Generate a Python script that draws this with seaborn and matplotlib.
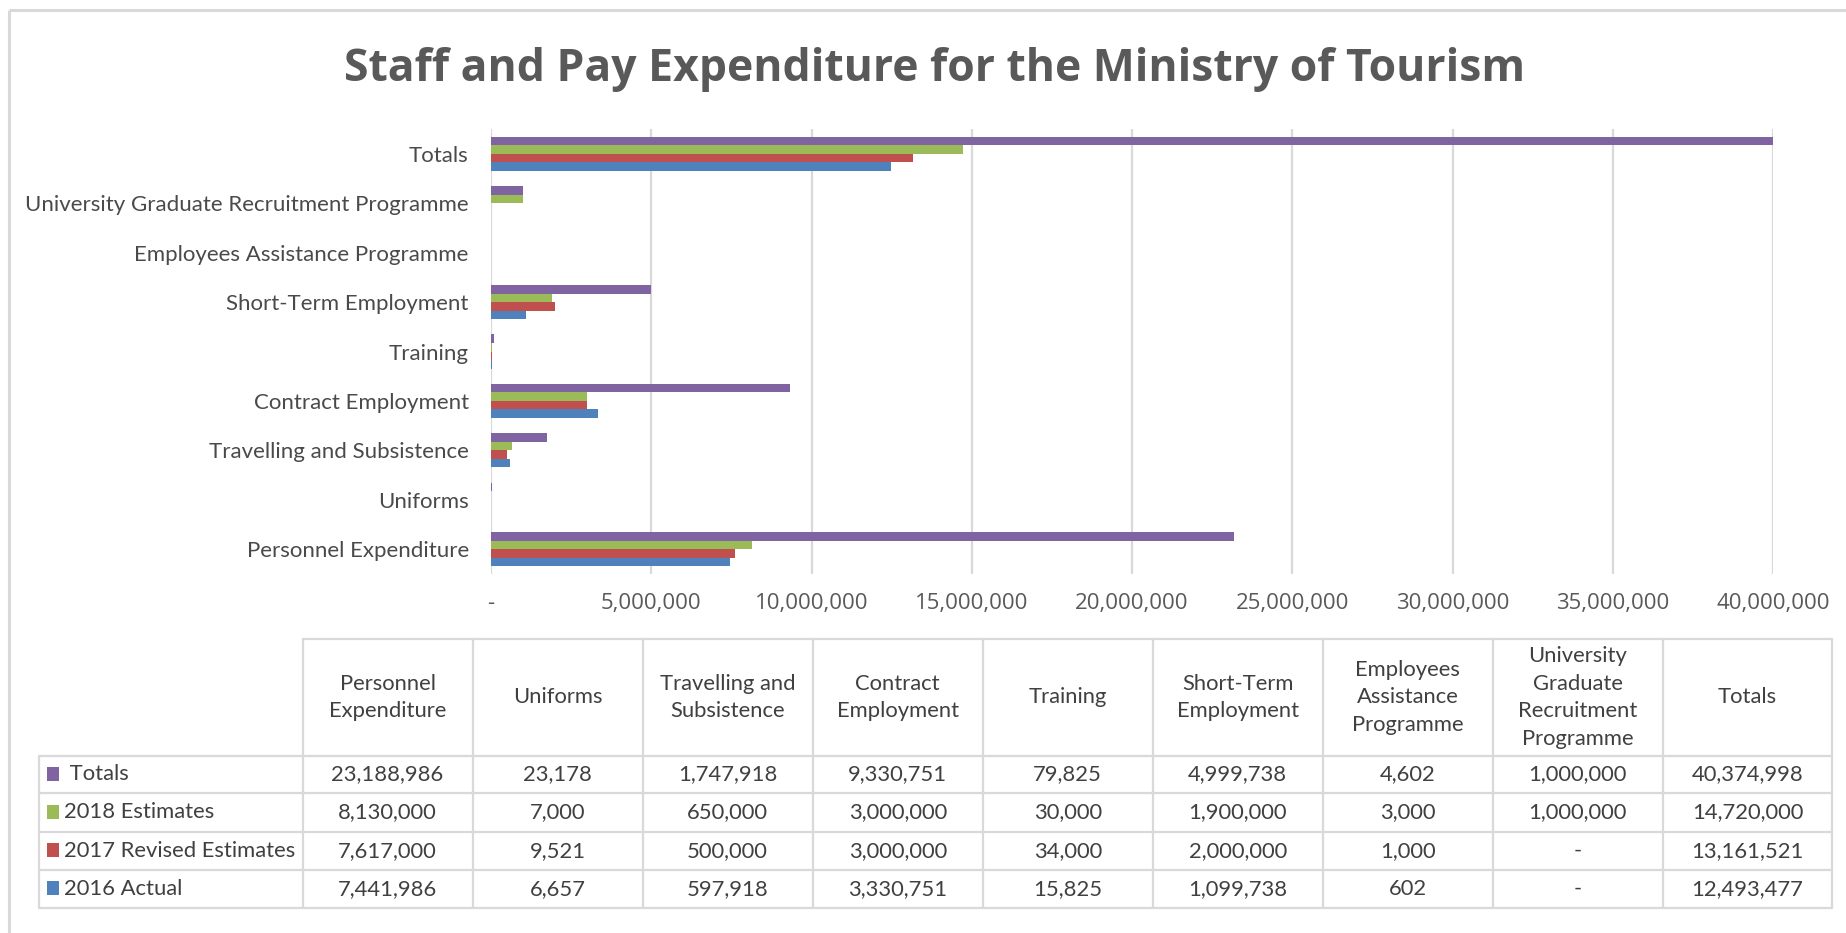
import matplotlib
matplotlib.use("Agg")
import matplotlib.pyplot as plt
import matplotlib.ticker as mticker
from matplotlib.patches import Rectangle
import seaborn as sns
import pandas as pd

# Expense lines, in the order they appear in the summary table
categories = [
    "Personnel Expenditure",
    "Uniforms",
    "Travelling and Subsistence",
    "Contract Employment",
    "Training",
    "Short-Term Employment",
    "Employees Assistance Programme",
    "University Graduate Recruitment Programme",
    "Totals",
]
header_labels = [
    "Personnel\nExpenditure",
    "Uniforms",
    "Travelling and\nSubsistence",
    "Contract\nEmployment",
    "Training",
    "Short-Term\nEmployment",
    "Employees\nAssistance\nProgramme",
    "University\nGraduate\nRecruitment\nProgramme",
    "Totals",
]

series_names = ["Totals", "2018 Estimates", "2017 Revised Estimates", "2016 Actual"]
series_colors = ["#8064A2", "#9BBB59", "#C0504D", "#4F81BD"]

totals = [23188986, 23178, 1747918, 9330751, 79825, 4999738, 4602, 1000000, 40374998]
est_2018 = [8130000, 7000, 650000, 3000000, 30000, 1900000, 3000, 1000000, 14720000]
rev_2017 = [7617000, 9521, 500000, 3000000, 34000, 2000000, 1000, 0, 13161521]
act_2016 = [7441986, 6657, 597918, 3330751, 15825, 1099738, 602, 0, 12493477]
series_values = [totals, est_2018, rev_2017, act_2016]

x_ticks = [0, 5e6, 10e6, 15e6, 20e6, 25e6, 30e6, 35e6, 40e6]

# Long-form frame for seaborn
rows = []
for name, vals in zip(series_names, series_values):
    for cat, v in zip(categories, vals):
        rows.append({"category": cat, "series": name, "value": v})
df = pd.DataFrame(rows)

sns.set_theme(style="white")
plt.rcParams["font.family"] = ["Lato", "DejaVu Sans"]

W, H = 1846, 933
fig = plt.figure(figsize=(W / 100, H / 100), dpi=100)
fig.patch.set_facecolor("white")

TEXT = "#595959"
GRID = "#D9D9D9"

# Bar chart area
ax = fig.add_axes([491 / W, 1 - 574 / H, (1773 - 491) / W, (574 - 129) / H])
sns.barplot(
    data=df, y="category", x="value", hue="series",
    order=categories[::-1], hue_order=series_names,
    palette=series_colors, orient="h", width=0.69,
    saturation=1, linewidth=0, ax=ax, legend=False,
)
ax.set_xlim(0, 40e6)
ax.set_ylim(8.5, -0.5)
ax.set_xticks(x_ticks)
ax.xaxis.set_major_formatter(
    mticker.FuncFormatter(lambda v, p: "-" if v == 0 else f"{int(v):,}")
)
ax.grid(axis="x", color=GRID, linewidth=1.6)
ax.set_axisbelow(True)
for s in ax.spines.values():
    s.set_visible(False)
ax.set_xlabel("")
ax.set_ylabel("")
ax.tick_params(axis="x", length=0, pad=14, labelsize=16, labelcolor=TEXT)
ax.tick_params(axis="y", length=0, pad=16, labelsize=16, labelcolor="#4a4a4a")
for lbl in ax.get_xticklabels():
    lbl.set_fontfamily(["Open Sans", "DejaVu Sans"])

# Title
fig.text(935 / W, 1 - 69 / H, "Staff and Pay Expenditure for the Ministry of Tourism",
         ha="center", va="center", fontsize=32, fontweight="bold", color=TEXT,
         fontfamily=["Open Sans", "DejaVu Sans"])

# Overlay axes in pixel coordinates for the frame and the data table
ov = fig.add_axes([0, 0, 1, 1], zorder=-1)
ov.set_xlim(0, W)
ov.set_ylim(H, 0)
ov.axis("off")

# Chart frame
ov.plot([9, 9], [H, 10], color=GRID, lw=2.2, solid_capstyle="butt")
ov.plot([9, W], [10, 10], color=GRID, lw=2.2, solid_capstyle="butt")

# Data table
col_edges = [302.6, 472.5, 642.6, 812.5, 983, 1152.5, 1323, 1492.5, 1663, 1832]
legend_left = 38.8
head_top, head_bot = 639, 755.6
row_edges = [755.6, 793.3, 831.5, 869.8, 907.5]
tcol = "#404040"
lw_t = 1.6
tsize = 15.8

ov2 = fig.add_axes([0, 0, 1, 1])
ov2.set_xlim(0, W)
ov2.set_ylim(H, 0)
ov2.axis("off")

# table grid
ov2.plot([col_edges[0], col_edges[-1]], [head_top, head_top], color=GRID, lw=lw_t)
for xe in col_edges:
    ov2.plot([xe, xe], [head_top, row_edges[-1]], color=GRID, lw=lw_t)
for ye in row_edges:
    ov2.plot([legend_left, col_edges[-1]], [ye, ye], color=GRID, lw=lw_t)
ov2.plot([legend_left, legend_left], [row_edges[0], row_edges[-1]], color=GRID, lw=lw_t)

for i, lab in enumerate(header_labels):
    xc = (col_edges[i] + col_edges[i + 1]) / 2
    ov2.text(xc, (head_top + head_bot) / 2, lab, ha="center", va="center",
             fontsize=tsize, color=tcol, linespacing=1.47, multialignment="center")

def fmt(v):
    return "-" if v == 0 else f"{v:,}"

for r, (name, color, vals) in enumerate(zip(series_names, series_colors, series_values)):
    yc = (row_edges[r] + row_edges[r + 1]) / 2
    ov2.add_patch(Rectangle((47, yc - 7.5), 12, 14, facecolor=color, edgecolor="none"))
    label = " " + name if name == "Totals" else name
    ov2.text(64, yc, label, ha="left", va="center", fontsize=tsize, color=tcol)
    for i, v in enumerate(vals):
        xc = (col_edges[i] + col_edges[i + 1]) / 2
        ov2.text(xc, yc, fmt(v), ha="center", va="center", fontsize=tsize, color=tcol)

fig.savefig("out.png", dpi=100, facecolor="white")
